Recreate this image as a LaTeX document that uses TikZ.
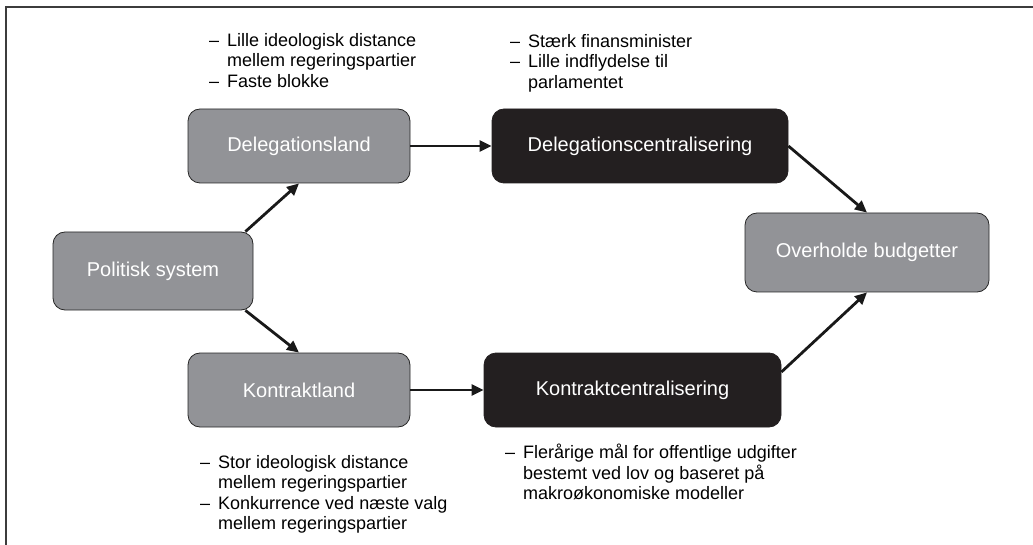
\documentclass[tikz,border=0pt]{standalone}
\usepackage{fontspec}
\setmainfont{Liberation Sans}
\usepackage{xcolor}
\usetikzlibrary{positioning, arrows.meta}

\definecolor{boxgrey}{RGB}{146,147,151}
\definecolor{boxdark}{RGB}{35,31,32}
\definecolor{framegrey}{RGB}{60,60,60}

\newcommand{\ndash}{\makebox[18pt][l]{--}}
\newcommand{\nindent}{\hspace*{18pt}}

\begin{document}
\begin{tikzpicture}[x=1pt, y=-1pt,
  greybox/.style={draw=black!85, line width=0.8pt, fill=boxgrey, rounded corners=12pt,
    text=white, inner sep=0pt, font=\fontsize{20}{24}\selectfont},
  darkbox/.style={draw=boxdark, line width=0.8pt, fill=boxdark, rounded corners=12pt,
    text=white, inner sep=0pt, font=\fontsize{20}{24}\selectfont},
  flow/.style={line width=2.8pt, black!90, -{Triangle[length=12pt,width=11pt]}},
  note/.style={anchor=north west, inner sep=0pt, align=left,
    font=\fontsize{18}{20.5}\selectfont}]
  \useasboundingbox (0,0) rectangle (1033,545);

  % frame
  \draw[line width=1.6pt, framegrey] (1033,7) -- (6,7) -- (6,545);

  % boxes
  \node[greybox, minimum width=200pt, minimum height=78pt] (pol) at (153,271) {Politisk system};
  \node[greybox, minimum width=222pt, minimum height=74pt] (dland) at (299,146) {Delegationsland};
  \node[greybox, minimum width=222pt, minimum height=74pt] (kland) at (299,390) {Kontraktland};
  \node[darkbox, minimum width=296pt, minimum height=74pt] (dcent) at (640,146) {Delegationscentralisering};
  \node[darkbox, minimum width=297pt, minimum height=74pt] (kcent) at (632.5,390) {Kontraktcentralisering};
  \node[greybox, minimum width=244pt, minimum height=79pt] (over) at (867,252.5) {Overholde budgetter};

  % notes
  \node[note] (dnote) at (209,33) {\ndash Lille ideologisk distance\\\nindent mellem regeringspartier\\\ndash Faste blokke};
  \node[note] (dcnote) at (510,34) {\ndash Stærk finansminister\\\ndash Lille indflydelse til\\\nindent parlamentet};
  \node[note] (knote) at (200,455) {\ndash Stor ideologisk distance\\\nindent mellem regeringspartier\\\ndash Konkurrence ved næste valg\\\nindent mellem regeringspartier};
  \node[note] (kcnote) at (505,444) {\ndash Flerårige mål for offentlige udgifter\\\nindent bestemt ved lov og baseret på\\\nindent makroøkonomiske modeller};

  % arrows
  \draw[flow] ([xshift=-8pt]pol.north east) -- (dland.south);
  \draw[flow] ([xshift=-8pt]pol.south east) -- (kland.north);
  \draw[flow] (dland.east) -- (dcent.west);
  \draw[flow] (kland.east) -- (kcent.west);
  \draw[flow] (dcent.east) -- (over.north);
  \draw[flow] ([yshift=18pt]kcent.east) -- (over.south);
\end{tikzpicture}
\end{document}
